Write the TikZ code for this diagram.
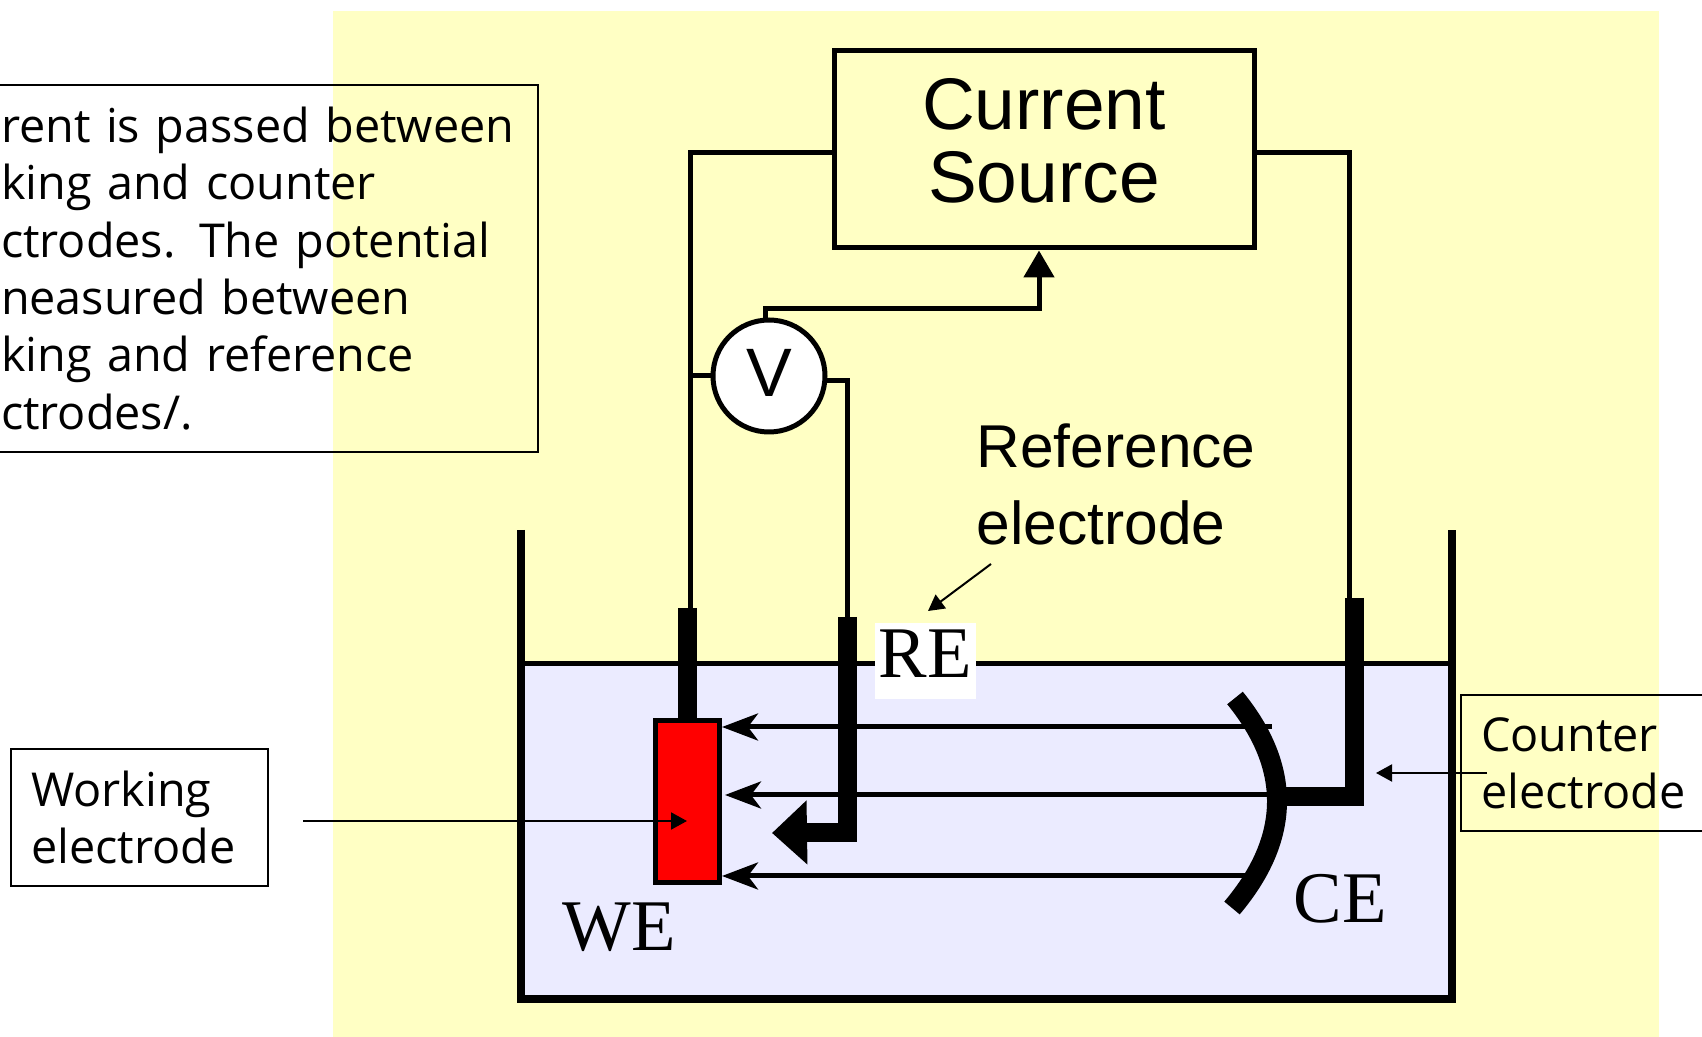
\documentclass[tikz,border=0pt]{standalone}
\usepackage{fontspec}
\usetikzlibrary{arrows.meta}
\setmainfont{Liberation Sans}
\newfontfamily\timesfont{Liberation Serif}
\newfontfamily\notefont{Open Sans}
\definecolor{paper}{HTML}{FFFFC4}
\definecolor{water}{HTML}{EBEBFF}
\tikzset{
  wire/.style={line width=0.05cm},
  rod/.style={line width=0.19cm},
  wall/.style={line width=0.08cm},
  flow/.style={line width=0.05cm, -{Stealth[length=0.36cm,width=0.27cm,inset=0.1cm]}},
  pointer/.style={line width=0.02cm, -{Stealth[length=0.16cm,width=0.17cm,inset=0pt]}},
  notebox/.style={draw, line width=0.02cm, align=left, anchor=north west, inner ysep=0pt, font=\notefont\fontsize{13.3}{16.3}\selectfont},
  cellmark/.style={font=\timesfont\fontsize{20.7}{24}\selectfont, inner sep=0pt}
}
\begin{document}
\begin{tikzpicture}[>=stealth]
\path[use as bounding box, clip] (0,0) rectangle (17.02,-10.37);
\fill[paper] (3.33,-0.11) rectangle (16.59,-10.37);
\fill[water] (5.21,-6.63) rectangle (14.52,-9.99);
\coordinate (wetop) at (6.87,-6.08);
\coordinate (wewire) at (6.90,-6.08);
\coordinate (retop) at (8.47,-6.17);
\coordinate (rebend) at (8.47,-8.325);
\coordinate (cetop) at (13.545,-5.98);
\coordinate (cewire) at (13.49,-5.98);
\coordinate (cebend) at (13.545,-7.965);
\coordinate (ceupper) at (12.35,-6.98);
\coordinate (celower) at (12.32,-9.08);
\coordinate (vturn) at (10.39,-3.09);
% beaker
\draw[wall] (5.21,-5.30) -- (5.21,-9.99) -- (14.52,-9.99) -- (14.52,-5.30);
\draw[line width=0.05cm] (5.21,-6.635) -- (14.52,-6.635);
% instruments
\node[draw, wire, minimum width=4.20cm, minimum height=1.97cm, align=center, text depth=0.18cm, font=\fontsize{20.8}{21}\selectfont] (source) at (10.44,-1.495) {Current\\Source};
\node[draw, wire, fill=white, circle, minimum size=1.12cm, inner sep=0pt, text depth=0.06cm, font=\fontsize{19.5}{20}\selectfont] (volt) at (7.69,-3.76) {V};
\coordinate (vjoin) at (6.90,-3.76);
\draw[wire] ([yshift=-0.035cm]source.west) -| (wewire);
\draw[wire] ([yshift=-0.035cm]source.east) -| (cewire);
\draw[wire] (vjoin) -- (volt.west);
\draw[wire] (volt.-4) -| (retop);
\draw[wire, -{Triangle[length=0.27cm,width=0.30cm]}] (volt.93) |- (vturn) -- (vturn |- source.south);
% electrodes
\node[draw, fill=red, line width=0.055cm, minimum width=0.64cm, minimum height=1.62cm, inner sep=0pt] (we) at (6.875,-8.015) {};
\draw[rod] (wetop) -- (we.north -| wetop);
\draw[flow] (12.72,-7.27) -- (7.22,-7.27);
\draw[flow] (12.72,-7.95) -- (7.25,-7.95);
\draw[flow] (12.60,-8.76) -- (7.22,-8.76);
\draw[rod] (retop) -- (rebend) -- (8.05,-8.325);
\coordinate (retip) at (7.72,-8.33);
\draw[line width=0.19cm, -{Triangle[length=0.35cm,width=0.62cm]}] (8.06,-8.325) -- (retip);
\draw[line width=0.20cm] (ceupper) .. controls (12.92,-7.68) and (12.91,-8.38) .. (celower);
\draw[rod] (cetop) -- (cebend) -- (12.80,-7.965);
% labels
\node[fill=white, minimum width=1.01cm, minimum height=0.76cm, text depth=0.14cm, cellmark] (re) at (9.25,-6.61) {RE};
\node[cellmark] (welabel) at (6.19,-9.27) {WE};
\node[cellmark] (celabel) at (13.40,-8.99) {CE};
\node[align=left, anchor=north west, inner sep=0pt, font=\fontsize{17.2}{21.9}\selectfont] (relabel) at (9.76,-4.23) {Reference\\electrode};
\coordinate (retail) at (9.91,-5.64);
\coordinate (rehead) at (9.28,-6.11);
\draw[pointer] (retail) -- (rehead);
% notes
\node[notebox, inner xsep=0.2cm, text width=5.17cm, minimum height=3.67cm] (note) at (-0.2,-0.84) {rent is passed between\\king and counter\\ctrodes. The potential\\neasured between\\king and reference\\ctrodes/.};
\node[notebox, inner xsep=0.2cm, text width=2.17cm, minimum height=1.37cm] (worklabel) at (0.10,-7.48) {Working\\electrode};
\node[notebox, inner xsep=0.2cm, text width=2.6cm, minimum height=1.36cm] (countlabel) at (14.60,-6.94) {Counter\\electrode};
\coordinate (worktail) at (3.03,-8.21);
\coordinate (workhead) at (6.87,-8.21);
\coordinate (counttail) at (14.87,-7.73);
\coordinate (counthead) at (13.76,-7.73);
\draw[pointer] (worktail) -- (workhead);
\draw[pointer] (counttail) -- (counthead);
\end{tikzpicture}
\end{document}
